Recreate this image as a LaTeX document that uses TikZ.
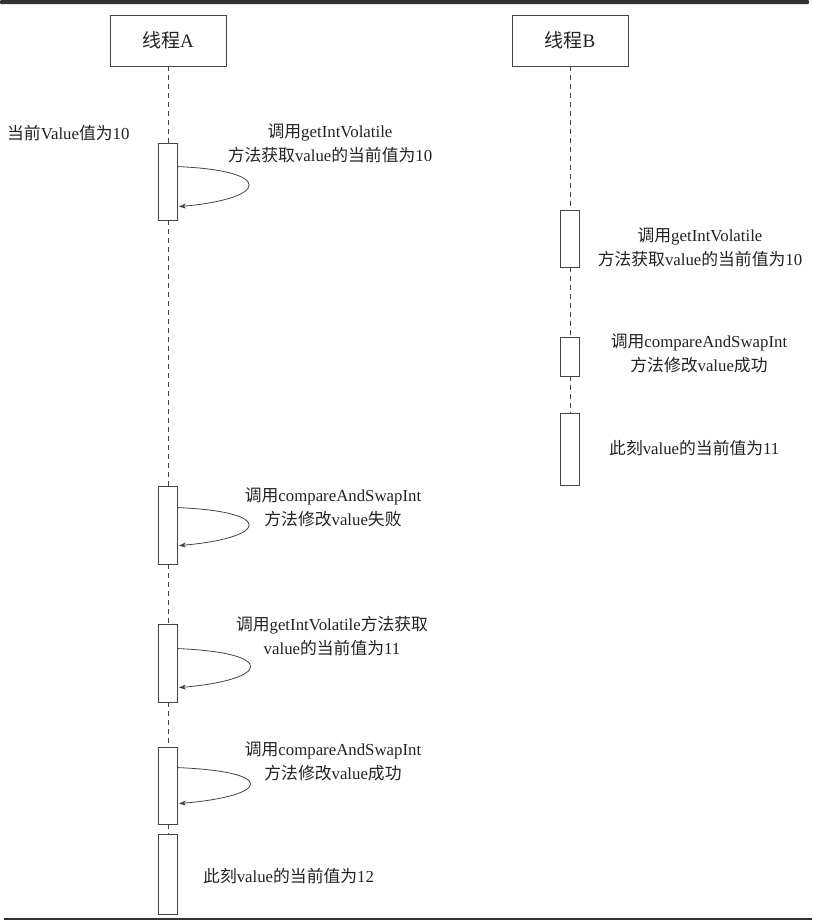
\documentclass[tikz,border=0pt]{standalone}
\usepackage{fontspec}
\setmainfont{Liberation Serif}
\newfontfamily\cjk{Noto Sans CJK SC}
\usetikzlibrary{arrows.meta,calc}
\newcommand{\zh}[1]{{\cjk #1}}
\definecolor{ink}{HTML}{222222}
\definecolor{edge}{HTML}{444444}
\tikzset{
  head/.style={draw=edge, line width=0.8pt, minimum width=116pt, minimum height=51pt, inner sep=0pt, font=\fontsize{19}{22}\selectfont, text=ink},
  act/.style={draw=edge, fill=white, line width=0.8pt, minimum width=19pt, inner sep=0pt},
  life/.style={draw=edge, line width=0.7pt, dash pattern=on 5pt off 4pt},
  lbl/.style={align=center, inner sep=0pt, text=ink, font=\fontsize{16.8}{24}\selectfont},
  selfloop/.style={draw=edge, line width=0.8pt, -{Stealth[length=7pt,width=5pt,inset=2pt]}},
  rule/.style={draw=black!80, line width=2pt}
}
\begin{document}
\begin{tikzpicture}[x=1pt,y=-1pt]
\useasboundingbox (0,0) rectangle (812,924);
% top and bottom rules
\fill[black!80, rounded corners=1pt] (0,0) rectangle (809,4);
\coordinate (bl) at (4,919);
\coordinate (br) at (812,919);
\draw[rule] (bl) -- (br);
% headers
\node[head] (hA) at (168,40.5) {\zh{线程}A};
\node[head] (hB) at (570,40.5) {\zh{线程}B};
% activation boxes thread A
\node[act, minimum height=77pt] (a1) at (168,181.5) {};
\node[act, minimum height=78pt] (a2) at (168,525) {};
\node[act, minimum height=78pt] (a3) at (168,663) {};
\node[act, minimum height=77pt] (a4) at (168,785.5) {};
\node[act, minimum height=80pt] (a5) at (168,874) {};
% activation boxes thread B
\node[act, minimum height=57pt] (b1) at (570,238.5) {};
\node[act, minimum height=39pt] (b2) at (570,356.5) {};
\node[act, minimum height=72pt] (b3) at (570,449) {};
% lifelines
\draw[life] (hA.south) -- (a1.north);
\draw[life] (a1.south) -- (a2.north);
\draw[life] (a2.south) -- (a3.north);
\draw[life] (a3.south) -- (a4.north);
\draw[life] (a4.south) -- (a5.north);
\draw[life] (hB.south) -- (b1.north);
\draw[life] (b1.south) -- (b2.north);
\draw[life] (b2.south) -- (b3.north);
% self loops
\draw[selfloop] ($(a1.north east)+(0,24)$) .. controls +(97,4) and +(90,-8) .. ($(a1.north east)+(1,64)$);
\draw[selfloop] ($(a2.north east)+(0,22)$) .. controls +(97,4) and +(90,-8) .. ($(a2.north east)+(1,60)$);
\draw[selfloop] ($(a3.north east)+(0,25)$) .. controls +(99,4) and +(92,-8) .. ($(a3.north east)+(1,64)$);
\draw[selfloop] ($(a4.north east)+(0,21)$) .. controls +(99,4) and +(92,-8) .. ($(a4.north east)+(1,57)$);
% labels
\node[lbl, anchor=west] (t0) at (7,133) {\zh{当前}Value\zh{值为}10};
\node[lbl] (t1) at (330,143) {\zh{调用}getIntVolatile\\\zh{方法获取}value\zh{的当前值为}10};
\node[lbl] (t2) at (333,507) {\zh{调用}compareAndSwapInt\\\zh{方法修改}value\zh{失败}};
\node[lbl] (t3) at (332,636) {\zh{调用}getIntVolatile\zh{方法获取}\\value\zh{的当前值为}11};
\node[lbl] (t4) at (333,761) {\zh{调用}compareAndSwapInt\\\zh{方法修改}value\zh{成功}};
\node[lbl, anchor=west] (t5) at (203,876) {\zh{此刻}value\zh{的当前值为}12};
\node[lbl] (u1) at (700,247) {\zh{调用}getIntVolatile\\\zh{方法获取}value\zh{的当前值为}10};
\node[lbl] (u2) at (699,353) {\zh{调用}compareAndSwapInt\\\zh{方法修改}value\zh{成功}};
\node[lbl, anchor=west] (u3) at (609,448) {\zh{此刻}value\zh{的当前值为}11};
\end{tikzpicture}
\end{document}
